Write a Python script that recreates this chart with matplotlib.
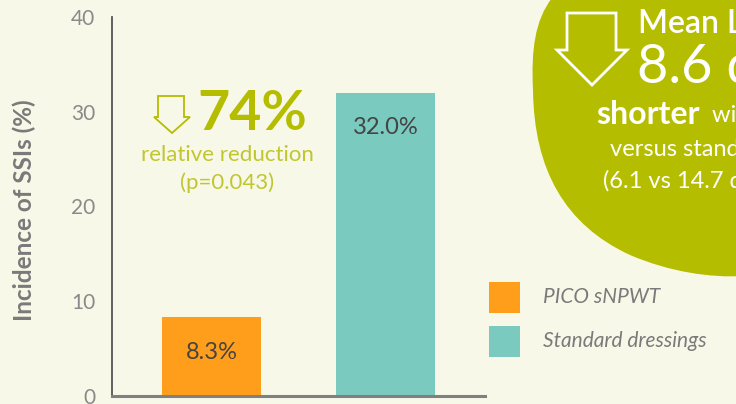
import matplotlib

matplotlib.use("Agg")
import matplotlib.pyplot as plt  # noqa: E402
from matplotlib.patches import PathPatch, Polygon, Rectangle  # noqa: E402
from matplotlib.path import Path  # noqa: E402

# data
groups = ["PICO sNPWT", "Standard dressings"]
incidence = [8.3, 32.0]
bar_labels = ["8.3%", "32.0%"]
yticks = [0, 10, 20, 30, 40]

BG = "#f7f8e8"
OLIVE = "#b5bd00"
ORANGE = "#ff9e1b"
TEAL = "#7acac0"
GREY = "#8a8a8a"
W, H = 736, 404

plt.rcParams["font.family"] = ["Lato", "DejaVu Sans"]

fig = plt.figure(figsize=(W / 100, H / 100), dpi=100, facecolor=BG)


def fx(x):
    return x / W


def fy(y):
    return 1 - y / H


def down_arrow(x0, y0, x1, y1, sx0, sx1, sy, color, lw):
    pts = [(sx0, y0), (sx1, y0), (sx1, sy), (x1, sy), ((x0 + x1) / 2, y1),
           (x0, sy), (sx0, sy)]
    return Polygon([(fx(a), fy(b)) for a, b in pts], closed=True, fill=False,
                   edgecolor=color, lw=lw, joinstyle="miter",
                   transform=fig.transFigure)


# green blob on the right (decoration)
blob = [(552, -2), (535, 20), (531, 50), (533, 90), (534, 170), (565, 225),
        (630, 255), (670, 272), (710, 278), (745, 276), (745, -2), (552, -2)]
codes = [Path.MOVETO] + [Path.CURVE4] * 9 + [Path.LINETO, Path.CLOSEPOLY]
fig.patches.append(PathPatch(Path([(fx(a), fy(b)) for a, b in blob], codes),
                             facecolor=OLIVE, edgecolor="none",
                             transform=fig.transFigure))

ax = fig.add_axes([fx(112), fy(396), fx(373), (396 - 17) / H])
ax.set_facecolor("none")
x = range(len(groups))
colors = [ORANGE, TEAL]
ax.bar(x, incidence, width=0.569, color=colors, zorder=2)
for i, (v, lab) in enumerate(zip(incidence, bar_labels)):
    ax.text(i, v - 3.7, lab, ha="center", va="center", fontsize=17,
            color="#444444")
ax.set_xlim(-0.572, 1.572)
ax.set_ylim(0, 40)
ax.set_yticks(yticks)
ax.set_xticks([])
ax.tick_params(axis="y", length=0, pad=12, labelsize=15, labelcolor=GREY)
for s in ("top", "right"):
    ax.spines[s].set_visible(False)
ax.spines["left"].set_color("#555555")
ax.spines["left"].set_linewidth(1.3)
ax.spines["bottom"].set_color("#808080")
ax.spines["bottom"].set_linewidth(2.2)
ax.spines["bottom"].set_zorder(3)
ax.set_ylabel("Incidence of SSIs (%)", fontsize=17.5, fontweight="bold",
              color="#7a7a7a")
ax.yaxis.set_label_coords(-0.203, 0.49)

# 74% callout
fig.patches.append(down_arrow(154, 96, 190, 133, 158, 184, 117, OLIVE, 1.3))
fig.text(fx(197), fy(114), "74%", fontsize=40, fontweight="bold", color=OLIVE,
         ha="left", va="center")
fig.text(fx(227), fy(155), "relative reduction", fontsize=16, color="#c0c72e",
         ha="center", va="center")
fig.text(fx(227), fy(183), "(p=0.043)", fontsize=16, color="#c0c72e",
         ha="center", va="center")

# blob text
fig.patches.append(down_arrow(557, 13, 627, 85, 567, 616, 50, "white", 2.0))
fig.text(fx(638), fy(24), "Mean Length of stay", fontsize=23, color="white",
         ha="left", va="center", fontweight="semibold")
fig.text(fx(637), fy(67), "8.6 days", fontsize=39, color="white",
         ha="left", va="center")
fig.text(fx(596), fy(114), "shorter", fontsize=23, color="white",
         ha="left", va="center", fontweight="bold")
fig.text(fx(712), fy(116), "with PICO", fontsize=17, color="white",
         ha="left", va="center")
fig.text(fx(610), fy(149), "versus standard dressings", fontsize=17,
         color="white", ha="left", va="center")
fig.text(fx(603), fy(181), "(6.1 vs 14.7 days)", fontsize=17, color="white",
         ha="left", va="center")

# legend
for (y0, name, c) in zip([282, 326], groups, colors):
    fig.patches.append(Rectangle((fx(489), fy(y0 + 31)), fx(31), 31 / H,
                                 facecolor=c, edgecolor="none",
                                 transform=fig.transFigure))
    fig.text(fx(543), fy(y0 + 15), name, fontsize=15, style="italic",
             color="#7a7a7a", ha="left", va="center")

fig.savefig("out.png", dpi=100, facecolor=BG)
